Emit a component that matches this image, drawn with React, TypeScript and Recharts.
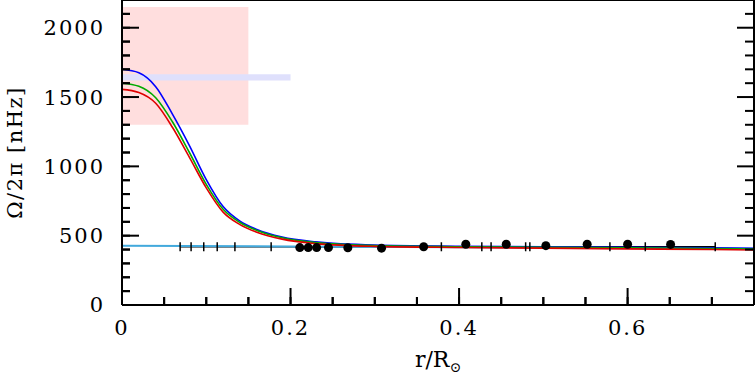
import React from "react";
import {
  ComposedChart,
  Line,
  Scatter,
  XAxis,
  YAxis,
  ReferenceArea,
} from "recharts";

// radius grid used by the three model curves
const radii = [0, 0.02, 0.04, 0.06, 0.08, 0.1, 0.12, 0.14, 0.16, 0.19, 0.23, 0.3, 0.4, 0.5, 0.6, 0.7, 0.75];
const blueRate = [1700, 1675, 1575, 1375, 1150, 905, 710, 605, 545, 490, 455, 432, 424, 420, 416, 412, 409];
const greenRate = [1600, 1578, 1495, 1320, 1100, 870, 690, 595, 538, 485, 450, 428, 420, 416, 412, 408, 404];
const redRate = [1555, 1532, 1455, 1280, 1065, 845, 670, 580, 525, 475, 443, 423, 415, 410, 405, 400, 397];

// light blue reference profile
const cyanR = [0, 0.2, 0.4, 0.6, 0.75];
const cyanRate = [428, 422, 416, 410, 406];

// horizontal resolution bars (ends marked with small ticks)
const barR = [0.069, 0.082, 0.097, 0.113, 0.134, 0.177, 0.379, 0.427, 0.438, 0.479, 0.484, 0.579, 0.621, 0.704];
const barRate = [420, 420, 420, 420, 420, 420, 420, 420, 420, 420, 420, 420, 420, 420];

// inverted points
const pointR = [0.211, 0.221, 0.231, 0.245, 0.268, 0.308, 0.358, 0.408, 0.456, 0.503, 0.552, 0.6, 0.651];
const pointRate = [414, 414, 414, 414, 413, 410, 420, 438, 438, 428, 438, 438, 437];

const xMajor = [0, 0.2, 0.4, 0.6];
const xMinor = [0.05, 0.1, 0.15, 0.25, 0.3, 0.35, 0.45, 0.5, 0.55, 0.65, 0.7];
const yMajor = [0, 500, 1000, 1500, 2000];
const yMinor = [100, 200, 300, 400, 600, 700, 800, 900, 1100, 1200, 1300, 1400, 1600, 1700, 1800, 1900, 2100];

const core = { r0: 0, r1: 0.15, lo: 1300, hi: 2150 };
const band = { r0: 0, r1: 0.2, lo: 1620, hi: 1665 };

const zip = (xs: number[], ys: number[]) => xs.map((r, i) => ({ r, v: ys[i] }));

const blueData = zip(radii, blueRate);
const greenData = zip(radii, greenRate);
const redData = zip(radii, redRate);
const cyanData = zip(cyanR, cyanRate);
const barData = zip(barR, barRate);
const pointData = zip(pointR, pointRate);

const xAll = [...xMajor, ...xMinor].sort((a, b) => a - b);
const yAll = [...yMajor, ...yMinor].sort((a, b) => a - b);

const FONT = "'DejaVu Serif', serif";
const X_DOMAIN: [number, number] = [0, 0.75];
const Y_DOMAIN: [number, number] = [0, 2200];
const TICK_LINE = { stroke: "#000", strokeWidth: 2 };
const MAJOR = 17;
const MINOR = 8;
const X_MARGIN = 23; // inward tick + gap to label
const Y_MARGIN = 25;

// inward tick for every value, label only on the majors
const BottomTick = (props: any) => {
  const { x, y, payload } = props;
  const v = payload.value;
  const major = xMajor.includes(v);
  const axisY = y - X_MARGIN + MINOR;
  return (
    <g>
      <line x1={x} x2={x} y1={axisY} y2={axisY - (major ? MAJOR : MINOR)} stroke="#000" strokeWidth={2} />
      {major && (
        <text x={x} y={y} dy="0.71em" textAnchor="middle" fontFamily={FONT} fontSize={21} letterSpacing={2} fill="#000">
          {v}
        </text>
      )}
    </g>
  );
};

const LeftTick = (props: any) => {
  const { x, y, payload } = props;
  const v = payload.value;
  const major = yMajor.includes(v);
  const axisX = x + Y_MARGIN - MINOR;
  return (
    <g>
      <line x1={axisX} x2={axisX + (major ? MAJOR : MINOR)} y1={y} y2={y} stroke="#000" strokeWidth={2} />
      {major && (
        <text x={x} y={y} dy="0.355em" textAnchor="end" fontFamily={FONT} fontSize={21} letterSpacing={2} fill="#000">
          {v}
        </text>
      )}
    </g>
  );
};

const BarEnd = (props: any) => {
  const { cx, cy } = props;
  if (cx == null || cy == null) return null;
  return <line x1={cx} x2={cx} y1={cy - 4.5} y2={cy + 4.5} stroke="#000" strokeWidth={1.5} />;
};

const XLabel = (props: any) => {
  const vb = props.viewBox;
  return (
    <text x={vb.x + vb.width / 2} y={vb.y + 62} textAnchor="middle" fontFamily={FONT} fontSize={22} fill="#000">
      r/R
      <tspan fontSize={14} dy={5}>⊙</tspan>
    </text>
  );
};

const YLabel = (props: any) => {
  const vb = props.viewBox;
  const x = vb.x + 15;
  const y = vb.y + vb.height / 2;
  return (
    <text
      x={x}
      y={y}
      transform={`rotate(-90 ${x} ${y})`}
      textAnchor="middle"
      dominantBaseline="central"
      fontFamily={FONT}
      fontSize={21}
      letterSpacing={1.5}
      fill="#000"
    >
      Ω/2π  [nHz]
    </text>
  );
};

const NoLabel = () => <g />;

// tick-only axes for the top and right frame
const tickAxis = { tick: NoLabel, interval: 0 as const, allowDataOverflow: true, mirror: true, tickLine: TICK_LINE };

export default function App(): JSX.Element {
  return (
    <div style={{ position: "absolute", left: 0, top: 0, background: "#fff" }}>
      <ComposedChart width={755} height={391} margin={{ top: 0, right: 1, left: 0, bottom: 0 }}>
        <XAxis
          xAxisId="main"
          type="number"
          dataKey="r"
          domain={X_DOMAIN}
          ticks={xAll}
          interval={0}
          allowDataOverflow
          height={86}
          tickLine={TICK_LINE}
          tickSize={-MINOR}
          tickMargin={X_MARGIN}
          tick={BottomTick}
          axisLine={{ stroke: "#000", strokeWidth: 2 }}
          label={<XLabel />}
        />
        <XAxis xAxisId="tMaj" type="number" orientation="top" domain={X_DOMAIN} ticks={xMajor} height={1} tickSize={MAJOR} axisLine={{ stroke: "#000", strokeWidth: 2 }} {...tickAxis} />
        <XAxis xAxisId="tMin" type="number" orientation="top" domain={X_DOMAIN} ticks={xMinor} height={1} tickSize={MINOR} axisLine={false} {...tickAxis} />

        <YAxis
          yAxisId="main"
          type="number"
          dataKey="v"
          domain={Y_DOMAIN}
          ticks={yAll}
          interval={0}
          allowDataOverflow
          width={122}
          tickLine={TICK_LINE}
          tickSize={-MINOR}
          tickMargin={Y_MARGIN}
          tick={LeftTick}
          axisLine={{ stroke: "#000", strokeWidth: 2 }}
          label={<YLabel />}
        />
        <YAxis yAxisId="rMaj" type="number" orientation="right" domain={Y_DOMAIN} ticks={yMajor} width={1} tickSize={MAJOR} axisLine={{ stroke: "#000", strokeWidth: 2 }} {...tickAxis} />
        <YAxis yAxisId="rMin" type="number" orientation="right" domain={Y_DOMAIN} ticks={yMinor} width={1} tickSize={MINOR} axisLine={false} {...tickAxis} />

        <ReferenceArea xAxisId="main" yAxisId="main" x1={core.r0} x2={core.r1} y1={core.lo} y2={core.hi} fill="#ffdede" fillOpacity={1} stroke="none" ifOverflow="visible" />
        <ReferenceArea xAxisId="main" yAxisId="main" x1={band.r0} x2={band.r1} y1={band.lo} y2={band.hi} fill="#dfe0fc" fillOpacity={1} stroke="none" ifOverflow="visible" />

        <Line xAxisId="main" yAxisId="main" data={barData} dataKey="v" type="linear" stroke="#000" strokeWidth={1.5} dot={<BarEnd />} activeDot={false} isAnimationActive={false} />
        <Line xAxisId="main" yAxisId="main" data={cyanData} dataKey="v" type="linear" stroke="#42a9dc" strokeWidth={2} dot={false} activeDot={false} isAnimationActive={false} />
        <Line xAxisId="main" yAxisId="main" data={blueData} dataKey="v" type="monotone" stroke="#0000ff" strokeWidth={1.6} dot={false} activeDot={false} isAnimationActive={false} />
        <Line xAxisId="main" yAxisId="main" data={greenData} dataKey="v" type="monotone" stroke="#00aa00" strokeWidth={1.6} dot={false} activeDot={false} isAnimationActive={false} />
        <Line xAxisId="main" yAxisId="main" data={redData} dataKey="v" type="monotone" stroke="#e00000" strokeWidth={1.6} dot={false} activeDot={false} isAnimationActive={false} />
        <Scatter
          xAxisId="main"
          yAxisId="main"
          data={pointData}
          dataKey="v"
          fill="#000"
          isAnimationActive={false}
          shape={(p: any) => <circle cx={p.cx} cy={p.cy} r={4.5} fill="#000" />}
        />
      </ComposedChart>
    </div>
  );
}
